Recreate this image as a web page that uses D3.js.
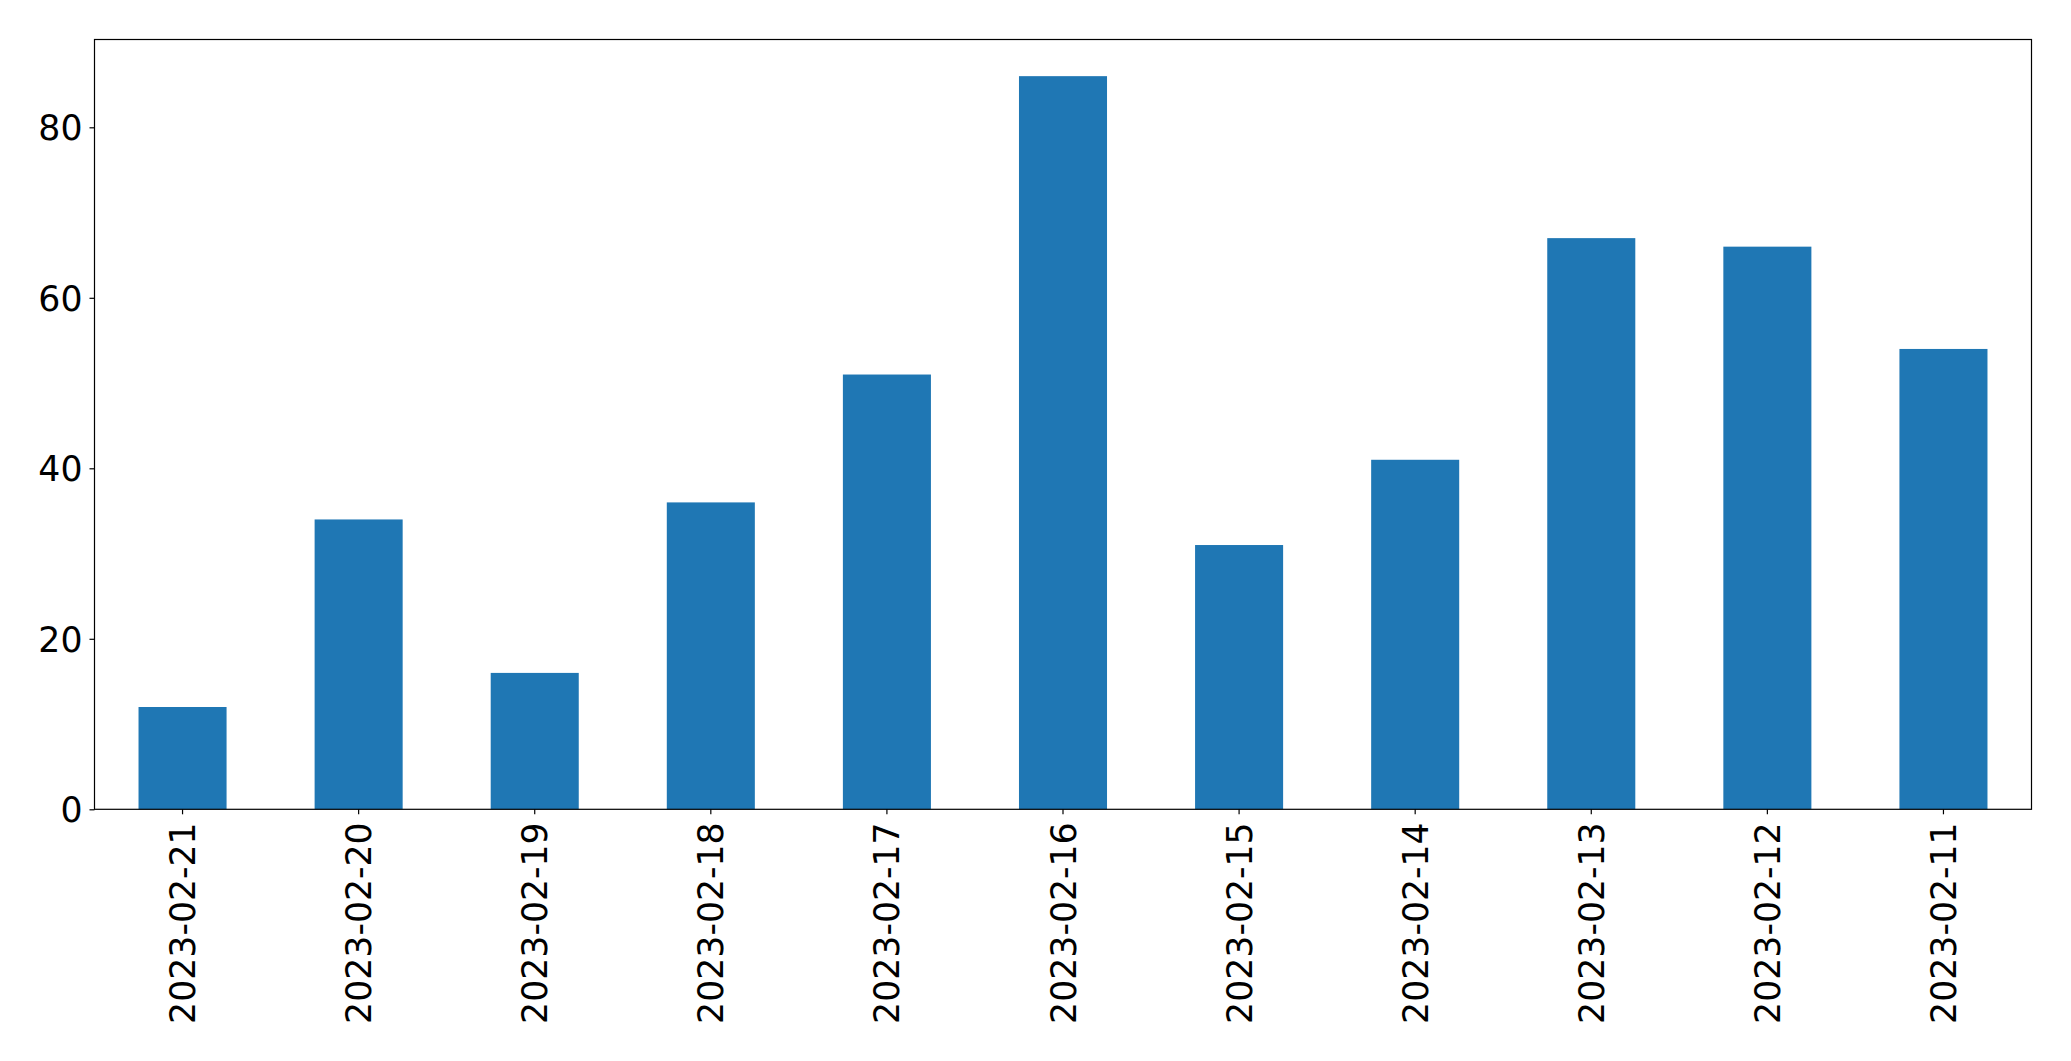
<!DOCTYPE html>
<html>
<head>
<meta charset="utf-8">
<script src="https://cdn.jsdelivr.net/npm/d3@7"></script>
<style>
  html, body { margin: 0; padding: 0; background: #fff; }
  svg text { font-family: "DejaVu Sans", sans-serif; fill: #000; }
</style>
</head>
<body>
<div id="chart"></div>
<script>
// data
const dates = ["2023-02-21", "2023-02-20", "2023-02-19", "2023-02-18", "2023-02-17", "2023-02-16",
               "2023-02-15", "2023-02-14", "2023-02-13", "2023-02-12", "2023-02-11"];
const counts = [12, 34, 16, 36, 51, 86, 31, 41, 67, 66, 54];
const yTicks = [0, 20, 40, 60, 80];

const W = 2071, H = 1061;
const margin = {top: 39.5, right: W - 2031.5, bottom: H - 809.3, left: 94.5};
const width = W - margin.left - margin.right;
const height = H - margin.top - margin.bottom;
const fontSize = 34.7;

const svg = d3.select("#chart").append("svg")
  .attr("width", W)
  .attr("height", H);

const g = svg.append("g")
  .attr("transform", `translate(${margin.left}, ${margin.top})`);

const x = d3.scaleBand()
  .domain(dates)
  .range([0, width])
  .paddingInner(0.5)
  .paddingOuter(0.25);

const y = d3.scaleLinear()
  .domain([0, d3.max(counts) * 1.05])
  .range([height, 0]);

g.selectAll("rect.bar")
  .data(dates)
  .enter().append("rect")
  .attr("class", "bar")
  .attr("x", d => x(d))
  .attr("y", (d, i) => y(counts[i]))
  .attr("width", x.bandwidth())
  .attr("height", (d, i) => height - y(counts[i]))
  .attr("fill", "#1f77b4");

// y axis
const yAxis = g.append("g")
  .call(d3.axisLeft(y).tickValues(yTicks).tickSize(5).tickPadding(7).tickSizeOuter(0));
yAxis.select(".domain").remove();
yAxis.selectAll("line").attr("stroke", "#000").attr("stroke-width", 1.2);
yAxis.selectAll("text")
  .style("font-size", fontSize + "px")
  .attr("dy", "0.36em");

// x axis
const xAxis = g.append("g")
  .attr("transform", `translate(0, ${height})`)
  .call(d3.axisBottom(x).tickSize(5).tickSizeOuter(0));
xAxis.select(".domain").remove();
xAxis.selectAll("line").attr("stroke", "#000").attr("stroke-width", 1.2);
xAxis.selectAll("text")
  .style("font-size", fontSize + "px")
  .attr("y", 0)
  .attr("dy", "0.36em")
  .attr("text-anchor", "end")
  .attr("transform", "translate(0, 13) rotate(-90)");

// frame
g.append("rect")
  .attr("width", width)
  .attr("height", height)
  .attr("fill", "none")
  .attr("stroke", "#000")
  .attr("stroke-width", 1.2);
</script>
</body>
</html>
